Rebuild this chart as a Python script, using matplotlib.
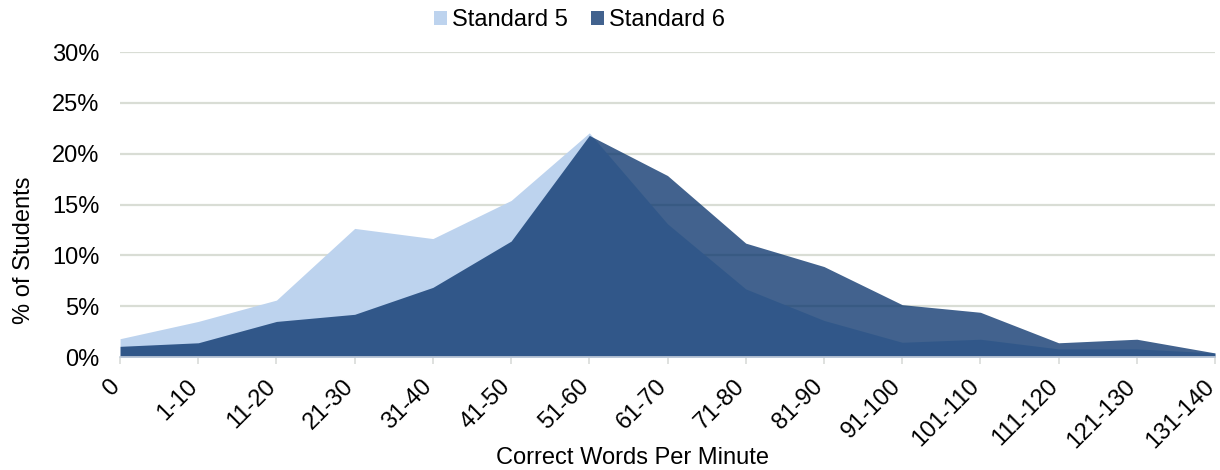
import matplotlib
matplotlib.use("Agg")
import matplotlib.pyplot as plt
from matplotlib.ticker import PercentFormatter
from matplotlib.patches import Patch

plt.rcParams['font.family'] = ['Liberation Sans', 'DejaVu Sans']

categories = ["0", "1-10", "11-20", "21-30", "31-40", "41-50", "51-60", "61-70",
              "71-80", "81-90", "91-100", "101-110", "111-120", "121-130", "131-140"]
standard5 = [1.8, 3.5, 5.6, 12.65, 11.65, 15.4, 22.05, 13.1, 6.7, 3.6, 1.45, 1.75, 0.8, 0.8, 0.4]
standard6 = [1.05, 1.4, 3.5, 4.2, 6.85, 11.4, 21.8, 17.85, 11.2, 8.9, 5.15, 4.4, 1.4, 1.75, 0.4]
y_ticks = [0, 5, 10, 15, 20, 25, 30]

c5 = "#bdd3ee"
c6 = "#022e68"
a6 = 0.75
FS = 17

fig = plt.figure(figsize=(12.2, 4.7), dpi=100)
ax = fig.add_axes([0.0984, 0.2404, 0.8975, 0.6489])

x = list(range(len(categories)))
ax.fill_between(x, 0, standard5, color=c5, lw=0, zorder=2)
ax.fill_between(x, 0, standard6, color=c6, alpha=a6, lw=0, zorder=3)

ax.set_xlim(0, len(categories) - 1)
ax.set_ylim(0, 30)
ax.set_yticks(y_ticks)
ax.yaxis.set_major_formatter(PercentFormatter(decimals=0))
ax.grid(axis='y', color="#d9ddd5", lw=1.6, zorder=1)
ax.set_axisbelow(True)

ax.set_xticks(x)
ax.set_xticklabels(categories, rotation=45, ha='right', va='baseline',
                   rotation_mode='anchor')
ax.tick_params(axis='x', length=5, color="#d9dcd9", width=1.2, labelsize=FS, pad=17)
ax.tick_params(axis='y', length=0, labelsize=FS, pad=15)

for s in ['top', 'right', 'left']:
    ax.spines[s].set_visible(False)
ax.spines['bottom'].set_color("#c5cfdc")
ax.spines['bottom'].set_linewidth(1.2)
ax.spines['bottom'].set_zorder(4)

ax.set_xlabel("Correct Words Per Minute", fontsize=FS)
ax.set_ylabel("% of Students", fontsize=FS)
ax.xaxis.set_label_coords(0.468, -0.331)
ax.xaxis.label.set_va('center')
ax.yaxis.set_label_coords(-0.088, 0.35)
ax.yaxis.label.set_va('center')

handles = [Patch(facecolor=c5, label="Standard 5"),
           Patch(facecolor=c6, alpha=a6, label="Standard 6")]
fig.legend(handles=handles, loc='center', bbox_to_anchor=(0.475, 0.957), ncol=2,
           frameon=False, fontsize=FS, handlelength=0.55, handleheight=0.55,
           handletextpad=0.2, columnspacing=1.0)

fig.savefig("out.png", dpi=100)
